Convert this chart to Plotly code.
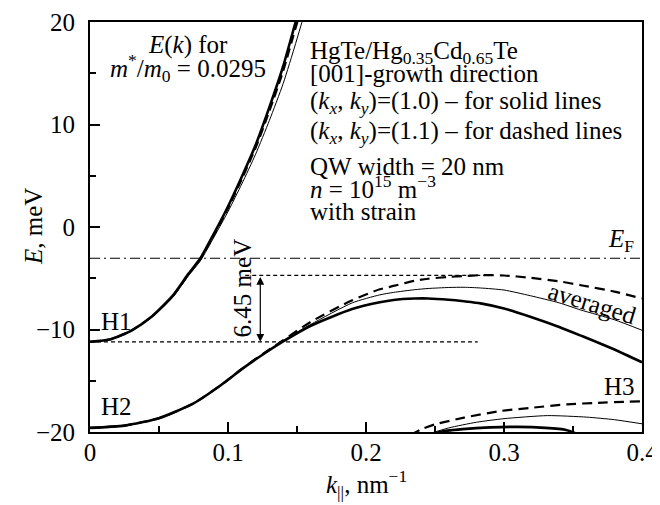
import plotly.graph_objects as go

FONT = "Liberation Serif"
FS = 25

# ---------------- data ----------------
# H1 subband
k_h1 = [0.000, 0.015, 0.030, 0.045, 0.060, 0.0714, 0.080, 0.090, 0.100, 0.110, 0.120, 0.130, 0.140, 0.149, 0.156]
E_h1_solid = [-11.2, -10.95, -10.1, -8.7, -6.7, -4.55, -3.05, -0.6, 2.0, 4.9, 8.0, 11.7, 15.7, 20.0, 23.3]
E_h1_thin = [-11.2, -10.95, -10.15, -8.8, -6.85, -4.75, -3.3, -0.95, 1.5, 4.2, 7.1, 10.4, 14.0, 17.9, 21.1]
E_h1_dash = [-11.2, -10.95, -10.1, -8.72, -6.75, -4.62, -3.15, -0.75, 1.8, 4.65, 7.7, 11.3, 15.2, 19.4, 22.6]

# H2 subband
k_h2 = [0.000, 0.025, 0.050, 0.075, 0.095, 0.110, 0.125, 0.140, 0.160, 0.190, 0.210, 0.220,
        0.235, 0.245, 0.260, 0.271, 0.283, 0.300, 0.319, 0.340, 0.3557, 0.380, 0.400]
E_h2_solid = [-19.6, -19.375, -18.65, -17.21, -15.41, -13.87, -12.46, -11.16, -9.63, -8.01, -7.35, -7.12,
              -6.98, -6.97, -7.1, -7.25, -7.45, -7.95, -8.75, -9.75, -10.6, -11.95, -13.2]
E_h2_thin = [-19.6, -19.375, -18.65, -17.21, -15.41, -13.87, -12.45, -11.1, -9.5, -7.4, -6.62, -6.38,
             -6.12, -6.0, -5.9, -5.88, -5.95, -6.15, -6.7, -7.4, -8.1, -9.05, -10.07]
E_h2_dash = [-19.6, -19.375, -18.65, -17.21, -15.41, -13.85, -12.4, -11.05, -9.25, -7.15, -6.08, -5.75,
             -5.25, -5.05, -4.87, -4.78, -4.7, -4.73, -4.95, -5.3, -5.68, -6.3, -6.98]

# H3 subband
k_h3_solid = [0.245, 0.255, 0.270, 0.290, 0.310, 0.330, 0.345, 0.355]
E_h3_solid = [-20.3, -19.95, -19.72, -19.55, -19.5, -19.6, -19.8, -20.3]
k_h3_thin = [0.245, 0.260, 0.280, 0.300, 0.3315, 0.360, 0.380, 0.400]
E_h3_thin = [-20.2, -19.6, -19.05, -18.7, -18.4, -18.55, -18.8, -19.2]
k_h3_dash = [0.232, 0.240, 0.250, 0.271, 0.2976, 0.319, 0.346, 0.368, 0.400]
E_h3_dash = [-20.3, -19.75, -19.25, -18.6, -17.95, -17.65, -17.3, -17.15, -17.0]

# Fermi level and gap markers
E_F = -3.05
k_EF = [0.0, 0.4]
H1_BOTTOM = -11.2
H2_TOP = -4.72
k_gap_lower = [0.0, 0.281]
k_gap_upper = [0.1125, 0.29]
k_gap_arrow = 0.1234
GAP_TEXT = "6.45 meV"

x_ticks = [0, 0.1, 0.2, 0.3, 0.4]
x_tick_text = ["0", "0.1", "0.2", "0.3", "0.4"]
y_ticks = [-20, -10, 0, 10, 20]
y_tick_text = ["\u221220", "\u221210", "0", "10", "20"]

# ---------------- figure ----------------
fig = go.Figure()

def line(x, y, width, dash="solid"):
    fig.add_trace(go.Scatter(x=x, y=y, mode="lines", line=dict(color="black", width=width, dash=dash,
                                                             shape="spline", smoothing=0.6),
                             showlegend=False, hoverinfo="skip"))

# reference lines
fig.add_trace(go.Scatter(x=k_EF, y=[E_F, E_F], mode="lines",
                         line=dict(color="black", width=1, dash="10px,4px,2px,4px"),
                         showlegend=False, hoverinfo="skip"))
fig.add_trace(go.Scatter(x=k_gap_lower, y=[H1_BOTTOM, H1_BOTTOM], mode="lines",
                         line=dict(color="black", width=1.2, dash="4px,3px"),
                         showlegend=False, hoverinfo="skip"))
fig.add_trace(go.Scatter(x=k_gap_upper, y=[H2_TOP, H2_TOP], mode="lines",
                         line=dict(color="black", width=1.2, dash="4px,3px"),
                         showlegend=False, hoverinfo="skip"))

# subbands
line(k_h1, E_h1_thin, 1)
line(k_h1, E_h1_dash, 2, "9px,5px")
line(k_h1, E_h1_solid, 2.6)
line(k_h2, E_h2_thin, 1)
line(k_h2, E_h2_dash, 2.2, "10px,6px")
line(k_h2, E_h2_solid, 2.6)
line(k_h3_thin, E_h3_thin, 1)
line(k_h3_dash, E_h3_dash, 2.2, "10px,6px")
line(k_h3_solid, E_h3_solid, 2.6)

ann = []
def text(x, y, s, xanchor="center", yanchor="middle", angle=0, xref="x", yref="y", xshift=0, yshift=0):
    ann.append(dict(x=x, y=y, xref=xref, yref=yref, text=s, showarrow=False, xanchor=xanchor,
                    yanchor=yanchor, textangle=angle, xshift=xshift, yshift=yshift,
                    font=dict(family=FONT, size=FS, color="black")))

# arrow for the gap
ann.append(dict(x=k_gap_arrow, y=H1_BOTTOM, ax=k_gap_arrow, ay=H2_TOP, xref="x", yref="y",
                axref="x", ayref="y", showarrow=True, arrowhead=2, startarrowhead=2,
                arrowside="end+start", arrowwidth=1.2, arrowsize=1.3, standoff=0, startstandoff=0,
                arrowcolor="black", text=""))
text(0.1103, -5.97, GAP_TEXT, angle=-90)

text(0.0189, -9.19, "H1")
text(0.0189, -17.48, "H2")
text(0.384, -15.53, "H3")
text(0.3848, -1.29, "<i>E</i><sub>F</sub>")
text(0.3644, -7.43, "averaged", angle=17)

text(0.0711, 17.8, "<i>E</i>(<i>k</i>) for")
text(0.0711, 15.5, "<i>m</i><sup>*</sup>/<i>m</i><sub>0</sub> = 0.0295")

x0 = 0.1583
text(x0, 17.0, "HgTe/Hg<sub>0.35</sub>Cd<sub>0.65</sub>Te", xanchor="left")
text(x0, 14.96, "[001]-growth direction", xanchor="left")
text(x0, 12.18, "(<i>k</i><sub><i>x</i></sub>, <i>k</i><sub><i>y</i></sub>)=(1.0) \u2013 for solid lines", xanchor="left")
text(x0, 9.25, "(<i>k</i><sub><i>x</i></sub>, <i>k</i><sub><i>y</i></sub>)=(1.1) \u2013 for dashed lines", xanchor="left")
text(x0, 5.88, "QW width = 20 nm", xanchor="left")
text(x0, 3.95, "<i>n</i> = 10<sup>15</sup> m<sup>\u22123</sup>", xanchor="left")
text(x0, 1.49, "with strain", xanchor="left")

# axis titles
text(0.5, 0, "<i>k</i><sub>||</sub>, nm<sup>\u22121</sup>", xref="paper", yref="paper", yshift=-52)
text(0, 0.5, "<i>E</i>, meV", xref="paper", yref="paper", xshift=-57, angle=-90)

axis_common = dict(showgrid=False, zeroline=False, showline=True, linecolor="black", linewidth=2,
                   mirror=True, ticks="inside", ticklen=10, tickwidth=1.5, tickcolor="black",
                   tickfont=dict(family=FONT, size=FS, color="black"), automargin=False,
                   ticklabeloverflow="allow")

fig.update_xaxes(range=[0, 0.4], tickvals=x_ticks, ticktext=x_tick_text,
                 minor=dict(ticks="inside", ticklen=6, tickwidth=1.5, dtick=0.05, tick0=0, tickcolor="black"),
                 ticklabelstandoff=-3, **axis_common)
fig.update_yaxes(range=[-20, 20], tickvals=y_ticks, ticktext=y_tick_text,
                 minor=dict(ticks="inside", ticklen=6, tickwidth=1.5, dtick=5, tick0=0, tickcolor="black"),
                 ticklabelstandoff=8, **axis_common)

# the page body adds an 8px margin, so the figure is 8px smaller to fit the 660x505 window
fig.update_layout(width=652, height=497, margin=dict(l=82, r=18, t=14, b=73),
                  paper_bgcolor="white", plot_bgcolor="white", annotations=ann,
                  font=dict(family=FONT, size=FS, color="black"))

fig.write_html("out.html")
